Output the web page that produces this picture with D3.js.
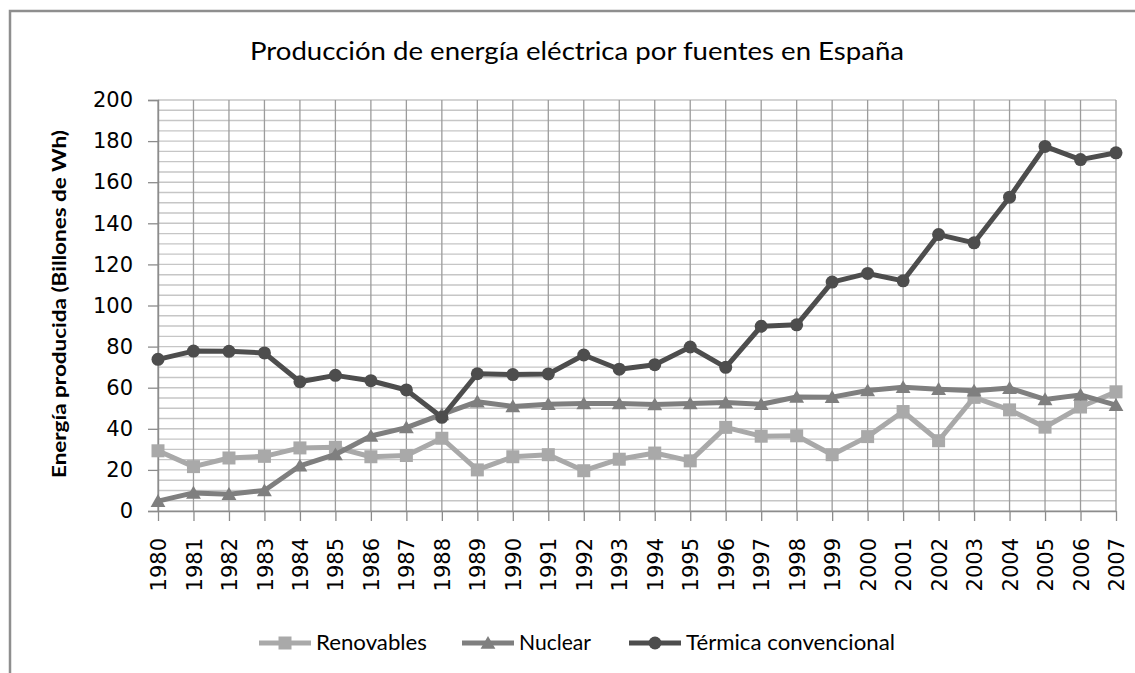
<!DOCTYPE html>
<html>
<head>
<meta charset="utf-8">
<script src="https://cdn.jsdelivr.net/npm/d3@7"></script>
<style>
  html, body { margin: 0; padding: 0; background: #fff; }
  svg { display: block; }
</style>
</head>
<body>
<div id="chart"></div>
<script>
// data
const years = ["1980","1981","1982","1983","1984","1985","1986","1987","1988","1989",
  "1990","1991","1992","1993","1994","1995","1996","1997","1998","1999",
  "2000","2001","2002","2003","2004","2005","2006","2007"];
const renovables = [29.3, 21.6, 25.8, 26.6, 30.7, 31, 26.4, 27, 35.4, 20,
  26.4, 27.4, 19.6, 25.2, 28.2, 24.4, 40.7, 36.4, 36.6, 27.4,
  36.2, 48.4, 34.2, 55.3, 49.2, 40.8, 50.6, 58];
const nuclear = [4.8, 8.8, 8.2, 10, 22, 27.5, 36.5, 40.6, 47, 53.2,
  50.9, 52, 52.3, 52.3, 51.8, 52.3, 52.8, 51.9, 55.5, 55.4,
  58.6, 60.2, 59.3, 58.5, 59.8, 54.3, 56.5, 51.5];
const termica = [73.8, 77.8, 77.7, 76.9, 62.9, 66, 63.4, 58.9, 45.6, 66.8,
  66.4, 66.7, 75.9, 69, 71.2, 79.8, 69.9, 89.9, 90.6, 111.4,
  115.6, 112, 134.5, 130.5, 152.7, 177.4, 171, 174.3];
const yTicks = [0, 20, 40, 60, 80, 100, 120, 140, 160, 180, 200];
const gridStep = 5;
const seriesNames = ["Renovables", "Nuclear", "Térmica convencional"];
const chartTitle = "Producción de energía eléctrica por fuentes en España";
const yTitle = "Energía producida (Billones de Wh)";

const W = 1135, H = 673;
const plot = { left: 158, right: 1116, top: 100, bottom: 511 };

const svg = d3.select("#chart").append("svg")
  .attr("width", W)
  .attr("height", H);

// chart frame (runs off the picture on the right and bottom)
svg.append("path")
  .attr("d", `M10,${H + 5} V11 H${W + 5}`)
  .attr("fill", "none")
  .attr("stroke", "#8e8e8e")
  .attr("stroke-width", 2.5);

const x = d3.scalePoint().domain(years).range([plot.left, plot.right]);
const y = d3.scaleLinear().domain([0, 200]).range([plot.bottom, plot.top]);

// horizontal gridlines every 5
const gridValues = d3.range(0, 200 + gridStep, gridStep);
svg.append("g")
  .selectAll("line")
  .data(gridValues)
  .join("line")
  .attr("x1", plot.left)
  .attr("x2", plot.right)
  .attr("y1", d => y(d))
  .attr("y2", d => y(d))
  .attr("stroke", "#c6c6c6")
  .attr("stroke-width", 1.4);

// vertical gridlines at each year
svg.append("g")
  .selectAll("line")
  .data(years)
  .join("line")
  .attr("x1", d => x(d))
  .attr("x2", d => x(d))
  .attr("y1", plot.top)
  .attr("y2", plot.bottom)
  .attr("stroke", "#9c9c9c")
  .attr("stroke-width", 1.3);

// y axis
const yAxis = svg.append("g")
  .attr("transform", `translate(${plot.left},0)`)
  .call(d3.axisLeft(y).tickValues(yTicks).tickSize(10).tickPadding(15));
yAxis.select(".domain").attr("stroke", "#8c8c8c").attr("stroke-width", 1.4);
yAxis.selectAll(".tick line").attr("stroke", "#8c8c8c").attr("stroke-width", 1.3);
yAxis.selectAll("text")
  .attr("font-family", "DejaVu Sans, sans-serif")
  .attr("font-size", 21)
  .attr("fill", "#000");

// x axis
const xAxis = svg.append("g")
  .attr("transform", `translate(0,${plot.bottom})`)
  .call(d3.axisBottom(x).tickSize(10).tickSizeOuter(0));
xAxis.select(".domain").attr("stroke", "#8c8c8c").attr("stroke-width", 1.4);
xAxis.selectAll(".tick line").attr("stroke", "#8c8c8c").attr("stroke-width", 1.3);
xAxis.selectAll("text")
  .attr("font-family", "DejaVu Sans, sans-serif")
  .attr("font-size", 21)
  .attr("fill", "#000")
  .attr("transform", "rotate(-90)")
  .attr("text-anchor", "end")
  .attr("x", -27)
  .attr("y", 0)
  .attr("dy", "0.36em");

// series
const series = [
  { name: seriesNames[0], values: renovables, color: "#a9a9a9", marker: "square" },
  { name: seriesNames[1], values: nuclear, color: "#7f7f7f", marker: "triangle" },
  { name: seriesNames[2], values: termica, color: "#4d4d4d", marker: "circle" }
];

const line = d3.line()
  .x((d, i) => x(years[i]))
  .y(d => y(d));

function drawMarker(g, type, color) {
  if (type === "square") {
    g.append("rect").attr("x", -6.5).attr("y", -6.5).attr("width", 13).attr("height", 13).attr("fill", color);
  } else if (type === "triangle") {
    g.append("path").attr("d", d3.symbol(d3.symbolTriangle, 95)()).attr("transform", "translate(0,1.5)").attr("fill", color);
  } else {
    g.append("circle").attr("r", 6.5).attr("fill", color);
  }
}

series.forEach(s => {
  svg.append("path")
    .datum(s.values)
    .attr("d", line)
    .attr("fill", "none")
    .attr("stroke", s.color)
    .attr("stroke-width", 5)
    .attr("stroke-linejoin", "round");

  svg.append("g")
    .selectAll("g")
    .data(s.values)
    .join("g")
    .attr("transform", (d, i) => `translate(${x(years[i])},${y(d)})`)
    .each(function () { drawMarker(d3.select(this), s.marker, s.color); });
});

// title
svg.append("text")
  .attr("x", 577)
  .attr("y", 60)
  .attr("text-anchor", "middle")
  .attr("font-family", "Lato, sans-serif")
  .attr("font-size", 25)
  .attr("fill", "#000")
  .attr("textLength", 654)
  .attr("lengthAdjust", "spacingAndGlyphs")
  .text(chartTitle);

// y axis title
svg.append("text")
  .attr("transform", "translate(66,304) rotate(-90)")
  .attr("text-anchor", "middle")
  .attr("font-family", "Lato, sans-serif")
  .attr("font-weight", "bold")
  .attr("font-size", 19)
  .attr("fill", "#000")
  .attr("textLength", 348)
  .attr("lengthAdjust", "spacingAndGlyphs")
  .text(yTitle);

// legend
const legendX = [259, 462, 629];
const legendTextLen = [111, 72, 209];
const legendY = 643;
series.forEach((s, i) => {
  const g = svg.append("g").attr("transform", `translate(${legendX[i]},${legendY})`);
  g.append("line")
    .attr("x1", 0).attr("x2", 52)
    .attr("stroke", s.color)
    .attr("stroke-width", 5);
  const m = g.append("g").attr("transform", "translate(26,0)");
  drawMarker(m, s.marker, s.color);
  g.append("text")
    .attr("x", 57)
    .attr("dy", "0.35em")
    .attr("font-family", "Lato, sans-serif")
    .attr("font-size", 21)
    .attr("fill", "#000")
    .attr("textLength", legendTextLen[i])
    .attr("lengthAdjust", "spacingAndGlyphs")
    .text(s.name);
});
</script>
</body>
</html>
